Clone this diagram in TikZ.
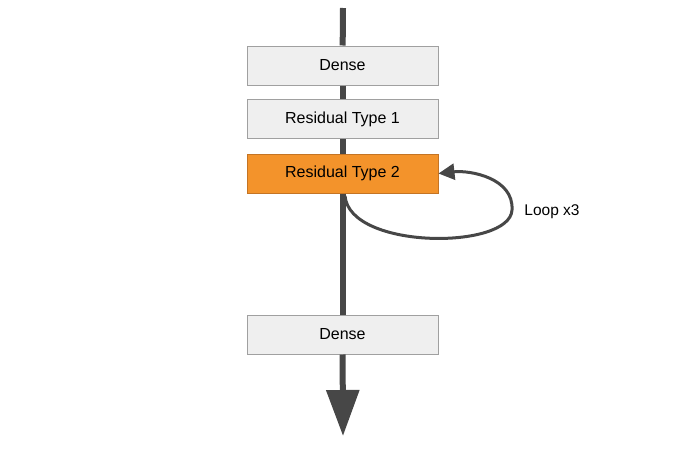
\documentclass[tikz,border=0pt]{standalone}
\usepackage{fontspec}
\setmainfont{Liberation Sans}
\usetikzlibrary{arrows.meta}
\definecolor{boxgray}{HTML}{EFEFEF}
\definecolor{boxline}{HTML}{A0A0A0}
\definecolor{orangefill}{HTML}{F3932B}
\definecolor{orangeline}{HTML}{C47424}
\definecolor{flowgray}{HTML}{474747}
\begin{document}
\begin{tikzpicture}[x=1pt, y=-1pt]

\tikzstyle{box}=[rectangle, draw=boxline, line width=1pt, fill=boxgray, minimum width=191pt, minimum height=39pt, inner sep=0pt, font=\fontsize{16}{19}\selectfont]
\tikzstyle{color1}=[fill=orangefill, draw=orangeline]
\tikzstyle{edge1}=[draw=flowgray, line width=6pt]
\tikzstyle{edge2}=[draw=flowgray, line width=3pt, -{Triangle[width=16pt, length=16pt]}]

\useasboundingbox (0, 0) rectangle (694, 450);

\coordinate (top) at (343, 8);
\coordinate (bottom) at (343, 436);
\coordinate (loopstart) at (345, 196);

\node[box] (dense1) at (342.5, 65.5) {Dense};
\node[box] (resone) at (342.5, 119) {Residual Type 1};
\node[box, color1] (restwo) at (342.5, 173.5) {Residual Type 2};
\node[box] (dense2) at (342.5, 334.5) {Dense};

\node[font=\fontsize{15.5}{18}\selectfont] (loop) at (552, 212) {Loop x3};

% main flow
\draw[edge1] (top) -- (dense1);
\draw[edge1] (dense1) -- (resone);
\draw[edge1] (resone) -- (restwo);
\draw[edge1] (restwo) -- (dense2);
\draw[edge1, -{Triangle[width=32pt, length=46pt]}] (dense2) -- (bottom);

% loop back
\draw[edge2] (loopstart) .. controls (350, 250) and (510, 250) .. (512, 210)
  .. controls (514, 178) and (470, 170) .. (restwo.east);

\end{tikzpicture}
\end{document}
